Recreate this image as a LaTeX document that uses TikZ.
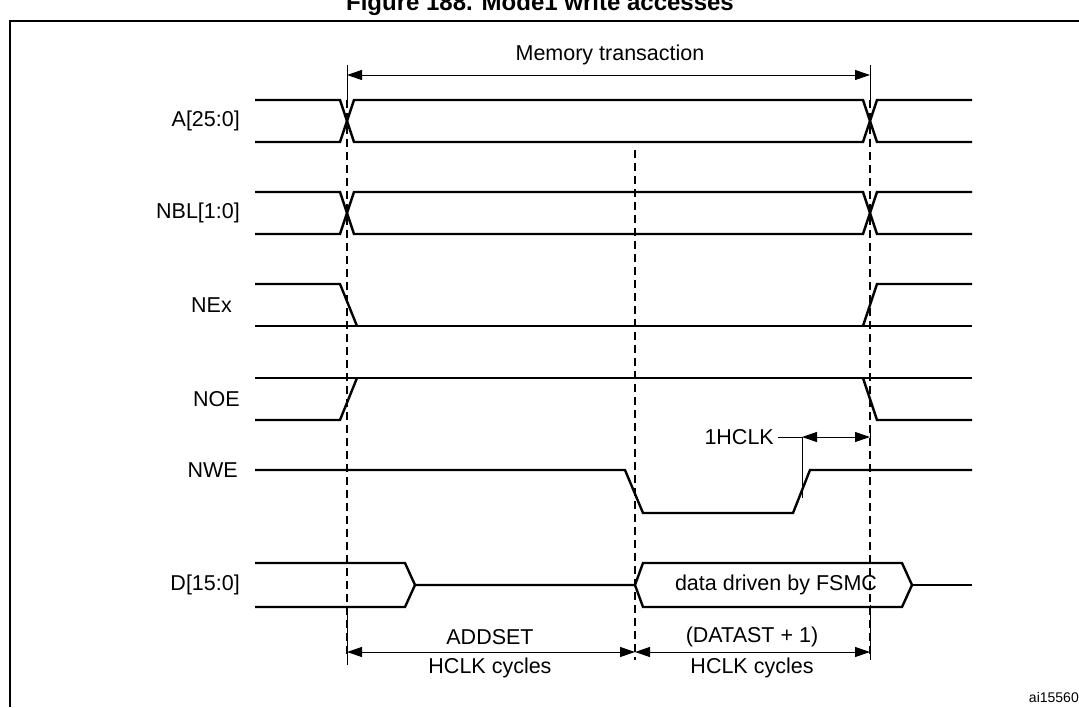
\documentclass[tikz,border=0pt]{standalone}
\usepackage{fontspec}
\setmainfont{Liberation Sans}
\usetikzlibrary{arrows.meta}
\begin{document}
\begin{tikzpicture}[x=1pt,y=-1pt,
  wave/.style={line width=2.4pt,line join=miter},
  guide/.style={line width=1.2pt,dash pattern=on 8pt off 5pt},
  dim/.style={line width=1pt,{Triangle[length=15pt,width=10pt]}-{Triangle[length=15pt,width=10pt]}},
  tick/.style={line width=1pt},
  lbl/.style={font=\fontsize{21.5}{25}\selectfont,inner sep=0pt},
  sig/.style={lbl,anchor=east}]
\useasboundingbox (0,0) rectangle (1079,707);
% title (cut off at top, as in the reference)
\node[font=\bfseries\fontsize{24}{28}\selectfont,inner sep=0pt] (title) at (540,4) {Figure 188. Mode1 write accesses};
% frame
\draw[line width=1.8pt] (10,707) -- (10,21) -- (1085,21);
% labels
\node[sig] (lA) at (240,121) {A[25:0]};
\node[sig] (lNBL) at (240,213) {NBL[1:0]};
\node[sig] (lNE) at (232,305) {NEx};
\node[sig] (lNOE) at (240,399) {NOE};
\node[sig] (lNWE) at (238,470) {NWE};
\node[sig] (lD) at (240,585) {D[15:0]};
% A and NBL
\foreach \h/\l in {100/142,192/234}{
  \draw[wave] (255,\h) -- (340,\h) -- (354,\l) -- (863,\l) -- (877,\h) -- (972,\h);
  \draw[wave] (255,\l) -- (340,\l) -- (354,\h) -- (863,\h) -- (877,\l) -- (972,\l);
}
% NEx
\draw[wave] (255,284) -- (340,284) -- (357,326);
\draw[wave] (255,326) -- (972,326);
\draw[wave] (863,326) -- (877,284) -- (972,284);
% NOE
\draw[wave] (255,420) -- (340,420) -- (357,378);
\draw[wave] (255,378) -- (972,378);
\draw[wave] (863,378) -- (877,420) -- (972,420);
% NWE
\draw[wave] (255,470) -- (625,470) -- (643,513) -- (793,513) -- (810,470) -- (972,470);
% D
\draw[wave] (255,563) -- (405,563) -- (415,585) -- (405,607) -- (255,607);
\draw[wave] (415,585) -- (635,585) -- (643,563) -- (902,563) -- (912,585) -- (902,607) -- (643,607) -- (635,585);
\draw[wave] (912,585) -- (972,585);
\node[lbl] (dtxt) at (776,585) {data driven by FSMC};
% dashed guides
\draw[guide] (347,100) -- (347,655);
\draw[guide] (635,150) -- (635,660);
\draw[guide] (870,100) -- (870,655);
% memory transaction
\coordinate (m1) at (347,75); \coordinate (m2) at (870,75);
\draw[tick] (347,65) -- (347,100);
\draw[tick] (870,65) -- (870,100);
\draw[dim] (m1) -- (m2);
\node[lbl] (mt) at (610,55) {Memory transaction};
% 1HCLK
\node[lbl,anchor=east] (h1) at (774,437) {1HCLK};
\coordinate (hv) at (802,437); \coordinate (hr) at (870,437);
\draw[tick] ([xshift=4pt]h1.east) -- (hv) -- (802,498);
\draw[tick] (870,428) -- (870,446);
\draw[dim] (hv) -- (hr);
% bottom dims
\draw[tick] (347,610) -- (347,665);
\draw[tick] (870,605) -- (870,660);
\coordinate (b1) at (347,652); \coordinate (b2) at (635,652); \coordinate (b3) at (870,652);
\draw[dim] (b1) -- (b2);
\draw[dim] (b2) -- (b3);
\node[lbl] (add1) at (490,637) {ADDSET};
\node[lbl] (add2) at (490,668) {HCLK cycles};
\node[lbl] (dat1) at (752,637) {(DATAST + 1)};
\node[lbl] (dat2) at (752,668) {HCLK cycles};
\node[font=\fontsize{14}{16}\selectfont,inner sep=0pt,anchor=east] (ai) at (1079,697) {ai15560};
\end{tikzpicture}
\end{document}
